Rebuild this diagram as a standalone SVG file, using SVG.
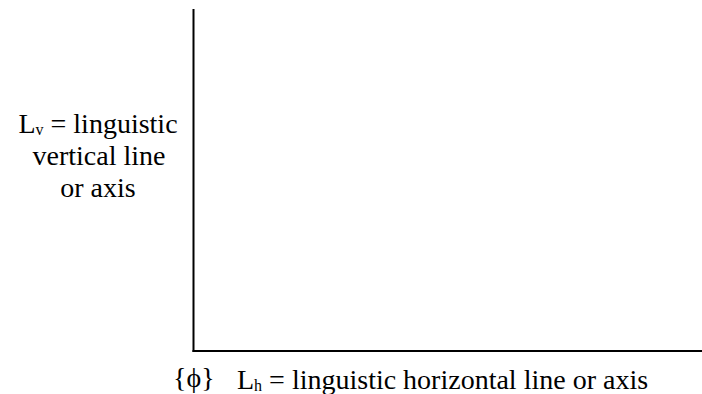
<svg xmlns="http://www.w3.org/2000/svg" width="702" height="394" viewBox="0 0 702 394">
<style>
text{font-family:'Liberation Serif','Times New Roman','DejaVu Serif',serif;font-size:28px;fill:#000}
.s{font-size:16px}
.ax{stroke:#000;stroke-width:2;fill:none}
</style>
<rect width="702" height="394" fill="#fff"/>
<g id="connectors">
<line class="ax" x1="193.5" y1="9" x2="193.5" y2="352"/>
<line class="ax" x1="192.5" y1="351" x2="702" y2="351"/>
</g>
<g id="lv-label">
<text x="98" y="133" text-anchor="middle">L<tspan class="s" dy="2">v</tspan><tspan dy="-2"> = linguistic</tspan></text>
<text x="99" y="165" text-anchor="middle">vertical line</text>
<text x="98" y="197" text-anchor="middle">or axis</text>
</g>
<g id="origin">
<text x="173" y="387">{ϕ}</text>
</g>
<g id="lh-label">
<text x="237" y="389">L<tspan class="s" dy="2">h</tspan><tspan dy="-2"> = linguistic horizontal line or axis</tspan></text>
</g>
</svg>
